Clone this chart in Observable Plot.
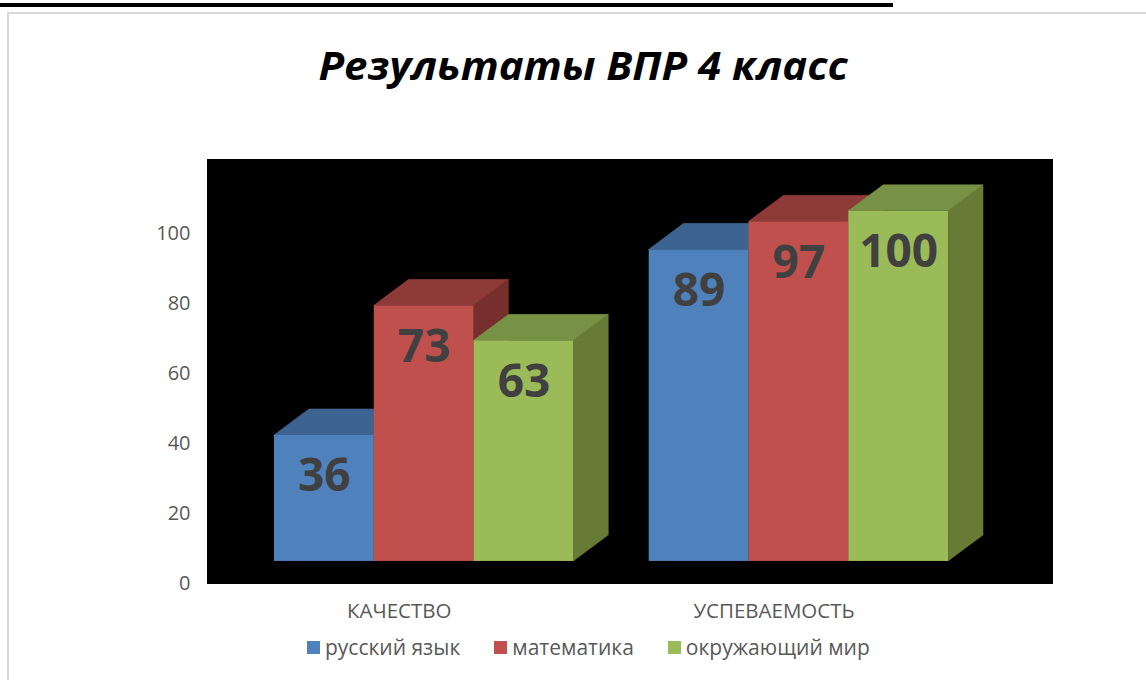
<!DOCTYPE html>
<html>
<head>
<meta charset="utf-8">
<script src="https://cdn.jsdelivr.net/npm/d3@7"></script>
<script src="https://cdn.jsdelivr.net/npm/@observablehq/plot@0.6"></script>
<style>
  html, body { margin: 0; padding: 0; background: #fff; width: 1146px; height: 680px; overflow: hidden; position: relative; font-family: "Open Sans", sans-serif; }
  #topline { position: absolute; left: 0; top: 3px; width: 893px; height: 4px; background: #000; }
  #frame { position: absolute; left: 7px; top: 12px; width: 1200px; height: 720px; border-left: 2px solid #d9d9d9; border-top: 2px solid #d9d9d9; }
  #title { position: absolute; left: 0; width: 1166px; top: 45px; height: 40px; line-height: 40px; text-align: center; font-size: 40px; font-weight: 700; font-style: italic; color: #000; white-space: nowrap; }
  #title span { display: inline-block; transform: scaleX(1.05); transform-origin: center; }
  #chart { position: absolute; left: 0; top: 140px; }
  #legend { position: absolute; left: 307px; top: 634px; height: 26px; display: flex; align-items: center; font-size: 21px; color: #595959; white-space: nowrap; }
  .item { display: flex; align-items: center; margin-right: 34px; }
  .sw { width: 13px; height: 13px; margin-right: 5px; }
</style>
</head>
<body>
<div id="topline"></div>
<div id="frame"></div>
<div id="title"><span>Результаты ВПР 4 класс</span></div>
<div id="chart"></div>
<div id="legend"></div>
<script>
// ---- data ----
const categories = ["КАЧЕСТВО", "УСПЕВАЕМОСТЬ"];
const seriesNames = ["русский язык", "математика", "окружающий мир"];
const russian = [36, 89];
const math = [73, 97];
const world = [63, 100];
const yTicks = [0, 20, 40, 60, 80, 100];

// ---- styles ----
const frontColors = ["#4F81BD", "#C0504D", "#9BBB59"];
const topColors = ["#3D6390", "#8E3A38", "#779244"];
const sideColors = ["#345276", "#772F2D", "#677B37"];

// ---- layout (in scale units: one bar width on x) ----
const groupStep = 3.755;
const depthX = 0.35;
const depthY = 7.43;
const base = 6.3;

const seriesValues = [russian, math, world];
const bars = [];
categories.forEach((cat, g) => {
  seriesNames.forEach((name, s) => {
    const x0 = g * groupStep + s;
    bars.push({id: g + "-" + s, cat, name, s, x0, x1: x0 + 1, v: seriesValues[s][g]});
  });
});

const sides = bars.flatMap(b => [
  {id: b.id, x: b.x1, y1: base, y2: base + b.v, fill: sideColors[b.s]},
  {id: b.id, x: b.x1 + depthX, y1: base + depthY, y2: base + b.v + depthY, fill: sideColors[b.s]}
]);
const tops = bars.flatMap(b => [
  {id: b.id, y: base + b.v, x1: b.x0, x2: b.x1, fill: topColors[b.s]},
  {id: b.id, y: base + b.v + depthY, x1: b.x0 + depthX, x2: b.x1 + depthX, fill: topColors[b.s]}
]);
const catLabels = categories.map((c, g) => ({c, x: g * groupStep + 1.25}));

const chart = Plot.plot({
  width: 1146,
  height: 500,
  marginLeft: 207,
  marginRight: 94,
  marginTop: 19,
  marginBottom: 57,
  style: {fontFamily: "Open Sans, sans-serif", fontSize: "20px", color: "#595959", background: "transparent", overflow: "visible"},
  x: {domain: [-0.671, 7.796], axis: null},
  y: {domain: [0, 121.1], ticks: yTicks, tickSize: 0, tickPadding: 17, label: null, tickFormat: d => String(d)},
  color: {type: "identity"},
  marks: [
    Plot.frame({fill: "black", stroke: "black"}),
    Plot.areaY(sides, {x: "x", y1: "y1", y2: "y2", z: "id", fill: "fill", stroke: "fill", strokeWidth: 0.5}),
    Plot.areaX(tops, {y: "y", x1: "x1", x2: "x2", z: "id", fill: "fill", stroke: "fill", strokeWidth: 0.5}),
    Plot.rect(bars, {x1: "x0", x2: "x1", y1: () => base, y2: d => base + d.v, fill: d => frontColors[d.s], inset: 0}),
    Plot.text(bars, {x: d => (d.x0 + d.x1) / 2, y: d => base + d.v, text: d => String(d.v), dy: 41, fontSize: 46, fontWeight: "bold", fill: "#404040"}),
    Plot.text(catLabels, {x: "x", y: () => 0, text: "c", dy: 28, fontSize: 20.5, fill: "#595959"})
  ]
});
document.getElementById("chart").appendChild(chart);

const legend = document.getElementById("legend");
seriesNames.forEach((name, i) => {
  const item = document.createElement("div");
  item.className = "item";
  const sw = document.createElement("div");
  sw.className = "sw";
  sw.style.background = frontColors[i];
  const t = document.createElement("span");
  t.textContent = name;
  item.appendChild(sw);
  item.appendChild(t);
  legend.appendChild(item);
});
</script>
</body>
</html>
